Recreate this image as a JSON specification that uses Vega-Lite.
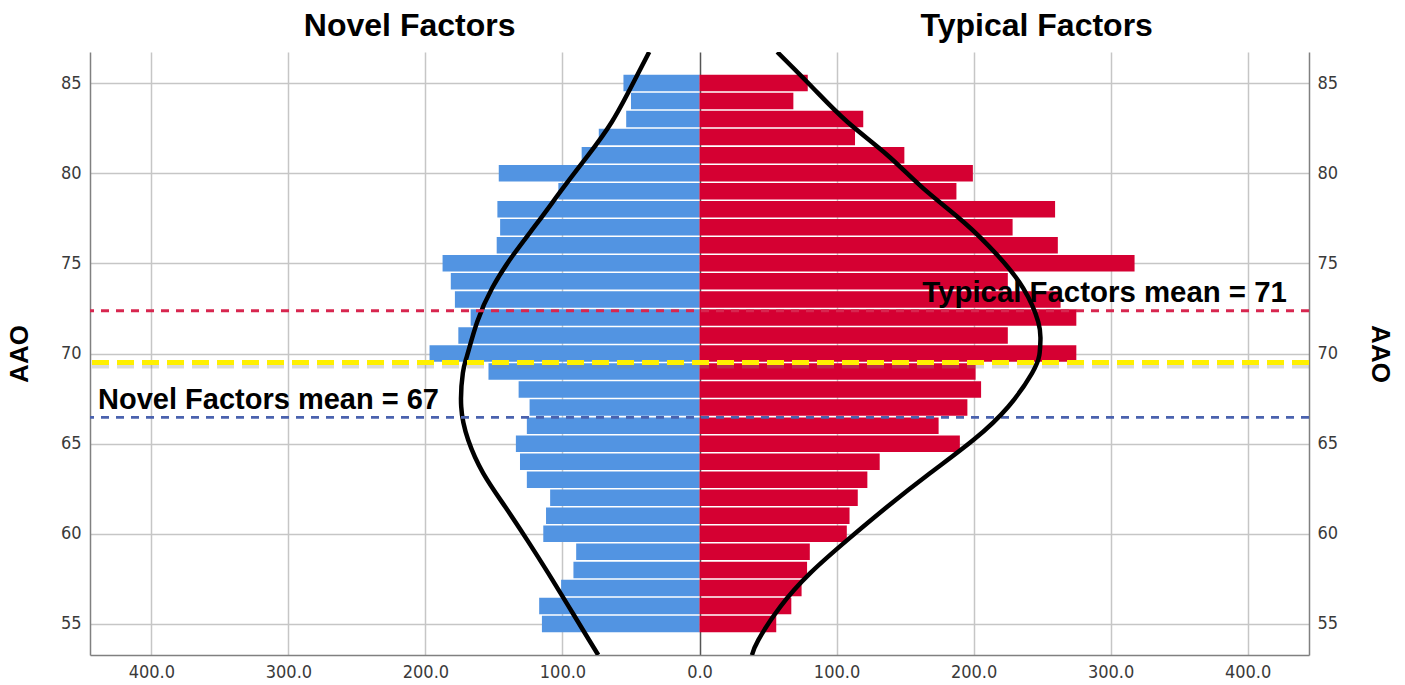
{
  "$schema": "https://vega.github.io/schema/vega-lite/v6.json",
  "width": 1219,
  "height": 603,
  "autosize": {"type": "none"},
  "padding": {"left": 90, "top": 52, "right": 96, "bottom": 30},
  "background": "white",
  "config": {
    "view": {"stroke": null},
    "axis": {
      "labelFont": "DejaVu Sans Condensed, DejaVu Sans",
      "labelFontSize": 18,
      "labelColor": "#3a3a3a",
      "titleFont": "Liberation Sans",
      "titleFontSize": 26,
      "titleFontWeight": "bold",
      "titleColor": "#000000",
      "domainColor": "#808080",
      "domainWidth": 1.5,
      "gridColor": "#c6c6c6",
      "gridWidth": 1.5,
      "ticks": false
    }
  },
  "datasets": {
    "one": [{"k": 1}],
    "bars": [
      {"aao": 85, "group": "Novel", "count": 55.5},
      {"aao": 84, "group": "Novel", "count": 50},
      {"aao": 83, "group": "Novel", "count": 53.5},
      {"aao": 82, "group": "Novel", "count": 73.5},
      {"aao": 81, "group": "Novel", "count": 86},
      {"aao": 80, "group": "Novel", "count": 146.5},
      {"aao": 79, "group": "Novel", "count": 103},
      {"aao": 78, "group": "Novel", "count": 147.5},
      {"aao": 77, "group": "Novel", "count": 145.5},
      {"aao": 76, "group": "Novel", "count": 148},
      {"aao": 75, "group": "Novel", "count": 187.5},
      {"aao": 74, "group": "Novel", "count": 181.5},
      {"aao": 73, "group": "Novel", "count": 178.5},
      {"aao": 72, "group": "Novel", "count": 167},
      {"aao": 71, "group": "Novel", "count": 176},
      {"aao": 70, "group": "Novel", "count": 197},
      {"aao": 69, "group": "Novel", "count": 154},
      {"aao": 68, "group": "Novel", "count": 132},
      {"aao": 67, "group": "Novel", "count": 124},
      {"aao": 66, "group": "Novel", "count": 126},
      {"aao": 65, "group": "Novel", "count": 134},
      {"aao": 64, "group": "Novel", "count": 131},
      {"aao": 63, "group": "Novel", "count": 126},
      {"aao": 62, "group": "Novel", "count": 109},
      {"aao": 61, "group": "Novel", "count": 112},
      {"aao": 60, "group": "Novel", "count": 114},
      {"aao": 59, "group": "Novel", "count": 90},
      {"aao": 58, "group": "Novel", "count": 92},
      {"aao": 57, "group": "Novel", "count": 101},
      {"aao": 56, "group": "Novel", "count": 117},
      {"aao": 55, "group": "Novel", "count": 115},
      {"aao": 85, "group": "Typical", "count": 79},
      {"aao": 84, "group": "Typical", "count": 68.5},
      {"aao": 83, "group": "Typical", "count": 119.5},
      {"aao": 82, "group": "Typical", "count": 113.5},
      {"aao": 81, "group": "Typical", "count": 149.5},
      {"aao": 80, "group": "Typical", "count": 199.5},
      {"aao": 79, "group": "Typical", "count": 187.5},
      {"aao": 78, "group": "Typical", "count": 259.5},
      {"aao": 77, "group": "Typical", "count": 228.5},
      {"aao": 76, "group": "Typical", "count": 261.5},
      {"aao": 75, "group": "Typical", "count": 317.5},
      {"aao": 74, "group": "Typical", "count": 225},
      {"aao": 73, "group": "Typical", "count": 263.5},
      {"aao": 72, "group": "Typical", "count": 275},
      {"aao": 71, "group": "Typical", "count": 225},
      {"aao": 70, "group": "Typical", "count": 275},
      {"aao": 69, "group": "Typical", "count": 201.5},
      {"aao": 68, "group": "Typical", "count": 205.5},
      {"aao": 67, "group": "Typical", "count": 195.5},
      {"aao": 66, "group": "Typical", "count": 174.5},
      {"aao": 65, "group": "Typical", "count": 190},
      {"aao": 64, "group": "Typical", "count": 131.5},
      {"aao": 63, "group": "Typical", "count": 122.5},
      {"aao": 62, "group": "Typical", "count": 115.5},
      {"aao": 61, "group": "Typical", "count": 109.5},
      {"aao": 60, "group": "Typical", "count": 107.5},
      {"aao": 59, "group": "Typical", "count": 80.5},
      {"aao": 58, "group": "Typical", "count": 78.5},
      {"aao": 57, "group": "Typical", "count": 74.5},
      {"aao": 56, "group": "Typical", "count": 67},
      {"aao": 55, "group": "Typical", "count": 56}
    ],
    "curves": [
      {"aao": 86.72, "group": "Novel", "density": 36.7},
      {"aao": 85.0, "group": "Novel", "density": 48.4},
      {"aao": 82.85, "group": "Novel", "density": 63.9},
      {"aao": 81.0, "group": "Novel", "density": 81.2},
      {"aao": 79.18, "group": "Novel", "density": 99.5},
      {"aao": 77.31, "group": "Novel", "density": 117.7},
      {"aao": 75.46, "group": "Novel", "density": 136.0},
      {"aao": 73.63, "group": "Novel", "density": 151.3},
      {"aao": 71.76, "group": "Novel", "density": 162.2},
      {"aao": 69.91, "group": "Novel", "density": 169.5},
      {"aao": 68.92, "group": "Novel", "density": 172.7},
      {"aao": 67.05, "group": "Novel", "density": 173.9},
      {"aao": 65.2, "group": "Novel", "density": 168.8},
      {"aao": 63.37, "group": "Novel", "density": 157.9},
      {"aao": 61.5, "group": "Novel", "density": 141.8},
      {"aao": 59.65, "group": "Novel", "density": 125.7},
      {"aao": 57.82, "group": "Novel", "density": 110.4},
      {"aao": 55.95, "group": "Novel", "density": 95.3},
      {"aao": 54.11, "group": "Novel", "density": 80.6},
      {"aao": 53.28, "group": "Novel", "density": 73.9},
      {"aao": 86.72, "group": "Typical", "density": 56.7},
      {"aao": 84.71, "group": "Typical", "density": 83.0},
      {"aao": 82.85, "group": "Typical", "density": 107.8},
      {"aao": 81.01, "group": "Typical", "density": 137.0},
      {"aao": 79.16, "group": "Typical", "density": 163.3},
      {"aao": 77.31, "group": "Typical", "density": 192.5},
      {"aao": 75.46, "group": "Typical", "density": 217.3},
      {"aao": 73.61, "group": "Typical", "density": 236.3},
      {"aao": 71.76, "group": "Typical", "density": 247.2},
      {"aao": 70.75, "group": "Typical", "density": 248.8},
      {"aao": 69.91, "group": "Typical", "density": 248.0},
      {"aao": 68.9, "group": "Typical", "density": 242.6},
      {"aao": 67.05, "group": "Typical", "density": 225.3},
      {"aao": 65.2, "group": "Typical", "density": 199.8},
      {"aao": 63.37, "group": "Typical", "density": 168.4},
      {"aao": 61.5, "group": "Typical", "density": 137.0},
      {"aao": 59.65, "group": "Typical", "density": 107.8},
      {"aao": 57.82, "group": "Typical", "density": 80.8},
      {"aao": 55.95, "group": "Typical", "density": 58.9},
      {"aao": 54.11, "group": "Typical", "density": 42.9},
      {"aao": 53.28, "group": "Typical", "density": 38.3}
    ]
  },
  "resolve": {"scale": {"x": "independent"}, "axis": {"y": "independent", "x": "independent"}},
  "layer": [
    {
      "layer": [
        {
          "data": {"name": "bars"},
          "transform": [{"filter": "datum.group === 'Novel'"}],
          "mark": {"type": "bar", "orient": "horizontal", "size": 16.5, "color": "#5294E2"},
          "encoding": {
            "y": {"field": "aao", "type": "quantitative",
              "scale": {"domain": [53.28, 86.72], "nice": false, "zero": false, "padding": 0},
              "axis": {"orient": "left", "values": [55, 60, 65, 70, 75, 80, 85], "grid": true, "labelPadding": 9, "title": "AAO", "titlePadding": 28}},
            "x": {"field": "count", "type": "quantitative",
              "scale": {"domain": [-444.8, 444.8], "nice": false, "reverse": true, "padding": 0},
              "axis": null}
          }
        },
        {
          "data": {"name": "curves"},
          "transform": [{"filter": "datum.group === 'Novel'"}],
          "mark": {"type": "line", "color": "#000000", "strokeWidth": 4.5, "interpolate": "natural", "clip": true},
          "encoding": {
            "y": {"field": "aao", "type": "quantitative"},
            "x": {"field": "density", "type": "quantitative"},
            "order": {"field": "aao", "type": "quantitative"}
          }
        }
      ]
    },
    {
      "layer": [
        {
          "data": {"name": "bars"},
          "transform": [{"filter": "datum.group === 'Typical'"}],
          "mark": {"type": "bar", "orient": "horizontal", "size": 16.5, "color": "#D50032"},
          "encoding": {
            "y": {"field": "aao", "type": "quantitative",
              "axis": {"orient": "right", "values": [55, 60, 65, 70, 75, 80, 85], "grid": false, "labelPadding": 8, "title": "AAO", "titlePadding": 29}},
            "x": {"field": "count", "type": "quantitative",
              "scale": {"domain": [-444.8, 444.8], "nice": false, "padding": 0},
              "axis": {"orient": "bottom", "values": [-400, -300, -200, -100, 0, 100, 200, 300, 400],
                "labelExpr": "format(abs(datum.value), '.1f')", "grid": true, "labelPadding": 8, "title": null,
                "gridColor": {"condition": {"test": "datum.value === 0", "value": "#555555"}, "value": "#c6c6c6"}}}
          }
        },
        {
          "data": {"name": "one"},
          "mark": {"type": "rule", "color": "#888888", "opacity": 0.3, "strokeWidth": 6, "strokeDash": [17, 8]},
          "encoding": {"y": {"datum": 69.33}}
        },
        {
          "data": {"name": "one"},
          "mark": {"type": "rule", "color": "#FFF000", "strokeWidth": 5, "strokeDash": [17, 8]},
          "encoding": {"y": {"datum": 69.5}}
        },
        {
          "data": {"name": "one"},
          "mark": {"type": "rule", "color": "#D7264F", "strokeWidth": 2.8, "strokeDash": [8, 7]},
          "encoding": {"y": {"datum": 72.37}}
        },
        {
          "data": {"name": "one"},
          "mark": {"type": "rule", "color": "#4A62AE", "strokeWidth": 2.8, "strokeDash": [8, 7]},
          "encoding": {"y": {"datum": 66.46}}
        },
        {
          "data": {"name": "curves"},
          "transform": [{"filter": "datum.group === 'Typical'"}],
          "mark": {"type": "line", "color": "#000000", "strokeWidth": 4.5, "interpolate": "natural", "clip": true},
          "encoding": {
            "y": {"field": "aao", "type": "quantitative"},
            "x": {"field": "density", "type": "quantitative"},
            "order": {"field": "aao", "type": "quantitative"}
          }
        },
        {
          "data": {"name": "one"},
          "mark": {"type": "text", "text": "Novel Factors mean = 67", "font": "Liberation Sans", "fontWeight": "bold", "fontSize": 29, "align": "left", "baseline": "alphabetic", "color": "#000000"},
          "encoding": {"x": {"datum": -438.9}, "y": {"datum": 66.92}}
        },
        {
          "data": {"name": "one"},
          "mark": {"type": "text", "text": "Typical Factors mean = 71", "font": "Liberation Sans", "fontWeight": "bold", "fontSize": 29.4, "align": "left", "baseline": "alphabetic", "color": "#000000"},
          "encoding": {"x": {"datum": 162.6}, "y": {"datum": 72.85}}
        },
        {
          "data": {"name": "one"},
          "mark": {"type": "text", "text": "Novel Factors", "font": "Liberation Sans", "fontWeight": "bold", "fontSize": 32, "align": "center", "baseline": "alphabetic", "color": "#000000"},
          "encoding": {"x": {"datum": -211.5}, "y": {"datum": 87.6}}
        },
        {
          "data": {"name": "one"},
          "mark": {"type": "text", "text": "Typical Factors", "font": "Liberation Sans", "fontWeight": "bold", "fontSize": 32, "align": "center", "baseline": "alphabetic", "color": "#000000"},
          "encoding": {"x": {"datum": 246.1}, "y": {"datum": 87.6}}
        }
      ]
    }
  ]
}
